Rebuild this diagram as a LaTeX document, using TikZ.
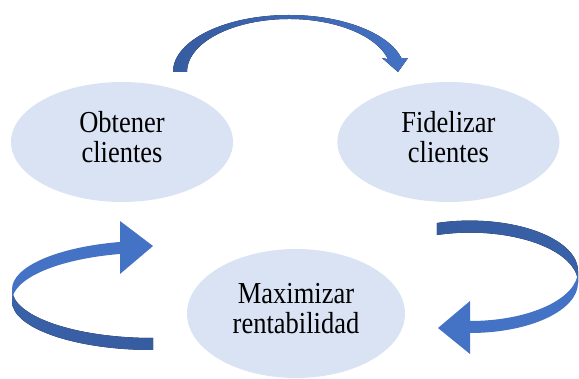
\documentclass[tikz,border=0pt]{standalone}
\usepackage{fontspec}
\setmainfont{Liberation Serif}
\usepackage{tikz}
\usetikzlibrary{positioning, calc, shapes.geometric}
\definecolor{elipseazul}{RGB}{218,227,243}
\definecolor{flechaazul}{RGB}{68,114,196}
\definecolor{flechaoscura}{RGB}{54,92,160}
\newcommand{\linea}[1]{\scalebox{1}[1.15]{#1}}
\tikzset{etapa/.style={ellipse, fill=elipseazul, minimum width=222pt, minimum height=120pt, inner sep=0pt, align=center, text depth=10pt, font=\fontsize{26.5}{30}\selectfont}}
\tikzset{flecha/.style={fill=flechaazul}}
\tikzset{flechadorso/.style={left color=flechaoscura!75!flechaazul, right color=flechaoscura}}

\begin{document}
\begin{tikzpicture}[x=1pt, y=-1pt]
    \useasboundingbox (0,0) rectangle (579,379);
    \node[etapa] (obtener) at (122,142) {\linea{Obtener}\\\linea{clientes}};
    \node[etapa, right=104pt of obtener] (fidelizar) {\linea{Fidelizar}\\\linea{clientes}};
    \node[etapa, minimum width=218pt, minimum height=129pt] (maximizar) at (296,313.5) {\linea{Maximizar}\\\linea{rentabilidad}};

    \coordinate (arriba) at (289,72);
    \coordinate (izq) at (153,295.3);
    \coordinate (der) at (470,276.8);

    \fill[left color=flechaoscura, middle color=flechaazul!40, right color=flechaazul]
        ($(arriba)+(180:116 and 57)$) arc[start angle=180, end angle=346, x radius=116, y radius=57]
        -- (408,58) -- (398,72) -- (382,58)
        -- ($(arriba)+(346:102 and 53)$) arc[start angle=346, end angle=180, x radius=102, y radius=53] -- cycle;

    \fill[flechadorso]
        ($(izq)+(180:141 and 48.7)+(0,-6)$) arc[start angle=180, end angle=90, x radius=141, y radius=48.7]
        -- ++(0,12) arc[start angle=90, end angle=180, x radius=141, y radius=48.7] -- cycle;
    \fill[flecha]
        ($(izq)+(256.5:141 and 48.7)+(0,-6)$) arc[start angle=256.5, end angle=180, x radius=141, y radius=48.7]
        -- ++(0,12) arc[start angle=180, end angle=256.5, x radius=141, y radius=48.7]
        -- (120,274) -- (153,246) -- (120,221) -- cycle;

    \fill[left color=flechaoscura, right color=flechaoscura!75!flechaazul]
        ($(der)+(252.2:108 and 50.2)+(0,-6)$) arc[start angle=252.2, end angle=360, x radius=108, y radius=50.2]
        -- ++(0,12) arc[start angle=360, end angle=252.2, x radius=108, y radius=50.2] -- cycle;
    \fill[flecha]
        ($(der)+(0:108 and 50.2)+(0,-6)$) arc[start angle=0, end angle=90, x radius=108, y radius=50.2]
        -- (470,301) -- (438,328) -- (470,354) -- (470,333)
        arc[start angle=90, end angle=0, x radius=108, y radius=50.2] -- cycle;
\end{tikzpicture}
\end{document}
